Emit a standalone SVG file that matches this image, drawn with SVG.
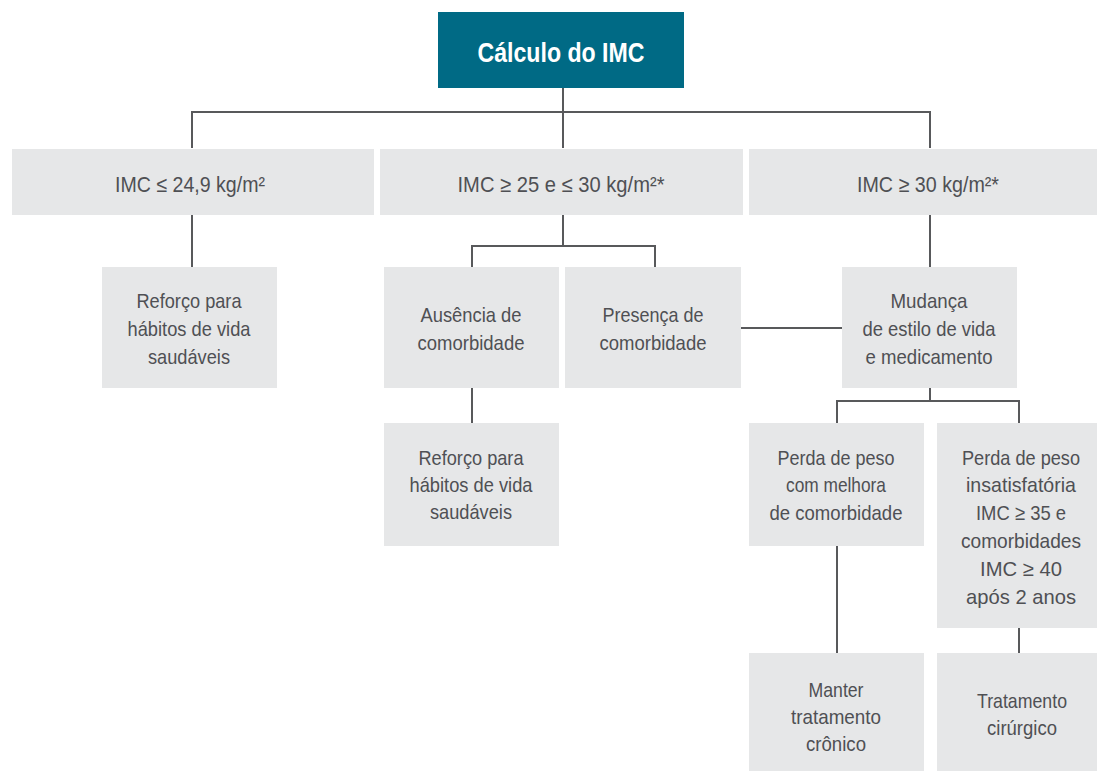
<svg xmlns="http://www.w3.org/2000/svg" width="1097" height="771" viewBox="0 0 1097 771">
<style>
.box{fill:#e6e7e8}
.t{font-family:"Liberation Sans",Arial,sans-serif;font-size:21px;fill:#4f5054;text-anchor:middle}
.r2{font-size:22px}
.title{font-family:"Liberation Sans",Arial,sans-serif;font-weight:bold;font-size:27px;fill:#ffffff;text-anchor:middle}
.ln{fill:none;stroke:#58595b;stroke-width:2}
</style>
<rect width="1097" height="771" fill="#ffffff"/>
<g id="connectors">
<path class="ln" d="M563 88V112M192 148V112H930V148M563 112V148"/>
<path class="ln" d="M192 215V267"/>
<path class="ln" d="M563 215V246M472 267V246H655V267"/>
<path class="ln" d="M472 388V423"/>
<path class="ln" d="M741 328H842"/>
<path class="ln" d="M930 215V267"/>
<path class="ln" d="M930 388V401M837 423V401H1019V423"/>
<path class="ln" d="M837 546V653"/>
<path class="ln" d="M1019 628V653"/>
</g>
<g id="n-title"><rect x="438" y="12" width="246" height="76" fill="#006a85"/><text class="title" x="561" y="62" textLength="167" lengthAdjust="spacingAndGlyphs">Cálculo do IMC</text></g>
<g id="n-imc1"><rect class="box" x="12" y="149" width="362" height="66"/><text class="t r2" x="190" y="192" textLength="150" lengthAdjust="spacingAndGlyphs">IMC ≤ 24,9 kg/m²</text></g>
<g id="n-imc2"><rect class="box" x="380" y="149" width="363" height="66"/><text class="t r2" x="561" y="192" textLength="207" lengthAdjust="spacingAndGlyphs">IMC ≥ 25 e ≤ 30 kg/m²*</text></g>
<g id="n-imc3"><rect class="box" x="749" y="149" width="360" height="66"/><text class="t r2" x="928" y="192" textLength="142" lengthAdjust="spacingAndGlyphs">IMC ≥ 30 kg/m²*</text></g>
<g id="n-reforco1"><rect class="box" x="102" y="267" width="175" height="121"/><text class="t" x="189" y="308" textLength="105" lengthAdjust="spacingAndGlyphs">Reforço para</text><text class="t" x="189" y="336" textLength="123" lengthAdjust="spacingAndGlyphs">hábitos de vida</text><text class="t" x="189" y="364" textLength="82" lengthAdjust="spacingAndGlyphs">saudáveis</text></g>
<g id="n-ausencia"><rect class="box" x="384" y="267" width="175" height="121"/><text class="t" x="471" y="322" textLength="101" lengthAdjust="spacingAndGlyphs">Ausência de</text><text class="t" x="471" y="350" textLength="107" lengthAdjust="spacingAndGlyphs">comorbidade</text></g>
<g id="n-presenca"><rect class="box" x="565" y="267" width="176" height="121"/><text class="t" x="653" y="322" textLength="101" lengthAdjust="spacingAndGlyphs">Presença de</text><text class="t" x="653" y="350" textLength="107" lengthAdjust="spacingAndGlyphs">comorbidade</text></g>
<g id="n-mudanca"><rect class="box" x="842" y="267" width="175" height="121"/><text class="t" x="929" y="308" textLength="77" lengthAdjust="spacingAndGlyphs">Mudança</text><text class="t" x="929" y="336" textLength="133" lengthAdjust="spacingAndGlyphs">de estilo de vida</text><text class="t" x="929" y="364" textLength="127" lengthAdjust="spacingAndGlyphs">e medicamento</text></g>
<g id="n-reforco2"><rect class="box" x="384" y="423" width="175" height="123"/><text class="t" x="471" y="465" textLength="105" lengthAdjust="spacingAndGlyphs">Reforço para</text><text class="t" x="471" y="492" textLength="123" lengthAdjust="spacingAndGlyphs">hábitos de vida</text><text class="t" x="471" y="519" textLength="82" lengthAdjust="spacingAndGlyphs">saudáveis</text></g>
<g id="n-perda1"><rect class="box" x="749" y="423" width="175" height="123"/><text class="t" x="836" y="465" textLength="117" lengthAdjust="spacingAndGlyphs">Perda de peso</text><text class="t" x="836" y="492" textLength="100" lengthAdjust="spacingAndGlyphs">com melhora</text><text class="t" x="836" y="520" textLength="133" lengthAdjust="spacingAndGlyphs">de comorbidade</text></g>
<g id="n-perda2"><rect class="box" x="937" y="423" width="170" height="205"/><text class="t" x="1021" y="465" textLength="118" lengthAdjust="spacingAndGlyphs">Perda de peso</text><text class="t" x="1021" y="492" textLength="110" lengthAdjust="spacingAndGlyphs">insatisfatória</text><text class="t" x="1021" y="520" textLength="90" lengthAdjust="spacingAndGlyphs">IMC ≥ 35 e</text><text class="t" x="1021" y="548" textLength="120" lengthAdjust="spacingAndGlyphs">comorbidades</text><text class="t" x="1021" y="576" textLength="82" lengthAdjust="spacingAndGlyphs">IMC ≥ 40</text><text class="t" x="1021" y="604" textLength="110" lengthAdjust="spacingAndGlyphs">após 2 anos</text></g>
<g id="n-manter"><rect class="box" x="749" y="653" width="175" height="118"/><text class="t" x="836" y="697" textLength="55" lengthAdjust="spacingAndGlyphs">Manter</text><text class="t" x="836" y="724" textLength="90" lengthAdjust="spacingAndGlyphs">tratamento</text><text class="t" x="836" y="751" textLength="60" lengthAdjust="spacingAndGlyphs">crônico</text></g>
<g id="n-cirurgico"><rect class="box" x="937" y="653" width="170" height="118"/><text class="t" x="1022" y="708" textLength="90" lengthAdjust="spacingAndGlyphs">Tratamento</text><text class="t" x="1022" y="735" textLength="70" lengthAdjust="spacingAndGlyphs">cirúrgico</text></g>
</svg>
